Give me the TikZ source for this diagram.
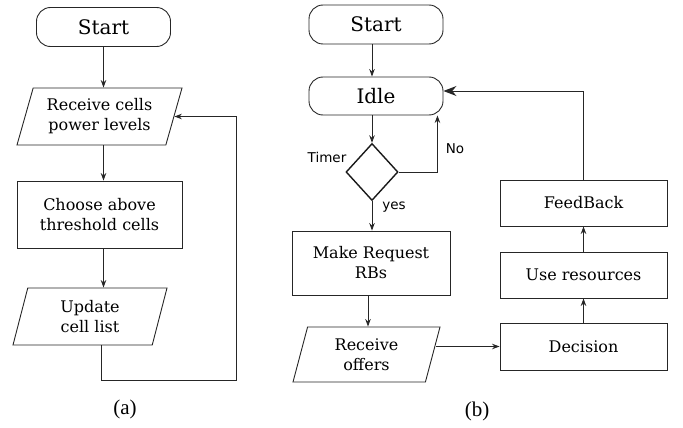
\documentclass[tikz,border=0pt]{standalone}
\usepackage{fontspec}
\setmainfont{DejaVu Serif}
\newfontfamily\labelfont{DejaVu Sans}
\newfontfamily\captionfont{Liberation Serif}
\usetikzlibrary{shapes.geometric,arrows.meta}

\tikzset{
  terminal/.style={draw, rounded corners=14pt, minimum width=134pt,
    minimum height=39pt, inner sep=0pt, font=\fontsize{20}{24}\selectfont},
  process/.style={draw, rectangle, inner sep=0pt, align=center,
    font=\fontsize{16}{20}\selectfont},
  io/.style={draw, trapezium, trapezium left angle=65.5,
    trapezium right angle=114.5, trapezium stretches body,
    inner sep=0pt, align=center, font=\fontsize{16}{20}\selectfont},
  choice/.style={draw, diamond, line width=1.4pt, draw=black!90,
    minimum width=52pt, minimum height=57pt, inner sep=0pt},
  arr/.style={-{Stealth[length=7.5pt,width=5.5pt]}},
  bigarr/.style={-{Stealth[length=13pt,width=10pt]}},
  tag/.style={font=\labelfont\fontsize{13.5}{16}\selectfont},
  caption/.style={font=\captionfont\fontsize{21}{24}\selectfont},
}

\begin{document}
\begin{tikzpicture}[x=1pt, y=-1pt, line width=0.9pt, draw=black!85]
  \useasboundingbox (0,0) rectangle (683,428);

  % 1. Left chart: cell selection loop
  \node[terminal] (startA) at (103.5,27) {Start};
  \node[io, minimum width=165pt, minimum height=57pt] (recvA) at (99.5,116.5)
    {Receive cells\\power levels};
  \node[process, minimum width=165pt, minimum height=67pt] (chooseA) at (99.5,214.5)
    {Choose above\\threshold cells};
  \node[io, minimum width=154pt, minimum height=57pt] (updateA) at (90,316.5)
    {Update\\cell list};
  \coordinate (loopA) at (236,380);

  \draw[arr] (startA.south) -- (startA.south |- recvA.north);
  \draw[arr] (startA.south |- recvA.south) -- (startA.south |- chooseA.north);
  \draw[arr] (startA.south |- chooseA.south) -- (startA.south |- updateA.north);
  % back to the receive step
  \draw[arr] ([xshift=-2pt]startA.south |- updateA.south) |- (loopA) |- (recvA.east);

  \node[caption] (capA) at (125,409) {(a)};

  % 2. Right chart: resource request cycle
  \node[terminal] (startB) at (376,24.5) {Start};
  \node[terminal, minimum height=38pt] (idle) at (376,96) {Idle};
  \node[choice] (timer) at (372,172) {};
  \node[process, minimum width=158pt, minimum height=64pt] (request) at (371,263)
    {Make Request\\RBs};
  \node[io, minimum width=147pt, minimum height=55pt] (offers) at (366.5,354.5)
    {Receive\\offers};
  \node[process, minimum width=167pt, minimum height=47pt] (decide) at (583.5,346.5)
    {Decision};
  \node[process, minimum width=167pt, minimum height=46pt] (useres) at (583.5,275)
    {Use resources};
  \node[process, minimum width=167pt, minimum height=46pt] (feedback) at (583.5,203)
    {FeedBack};

  \node[tag] (timerlbl) at (327,157) {Timer};
  \node[tag] (nolbl) at (455,149) {No};
  \node[tag] (yeslbl) at (394,207) {yes};

  \draw[arr] (timer.north |- startB.south) -- (timer.north |- idle.north);
  \draw[arr] (timer.north |- idle.south) -- (timer.north);
  \draw[arr] (timer.east) -| ([xshift=-6pt]idle.south east);
  \draw[arr] (timer.south) -- (timer.south |- request.north);
  \draw[arr] ([xshift=-3pt]request.south) -- ([xshift=-3pt]request.south |- offers.north);
  \draw[arr] ([xshift=3pt]decide.west -| offers.east) -- (decide.west);
  \draw[arr] (decide.north) -- (useres.south);
  \draw[arr] (useres.north) -- (feedback.south);
  \draw[bigarr] (feedback.north) |- ([yshift=5pt]idle.east);

  \node[caption] (capB) at (477,411) {(b)};
\end{tikzpicture}
\end{document}
